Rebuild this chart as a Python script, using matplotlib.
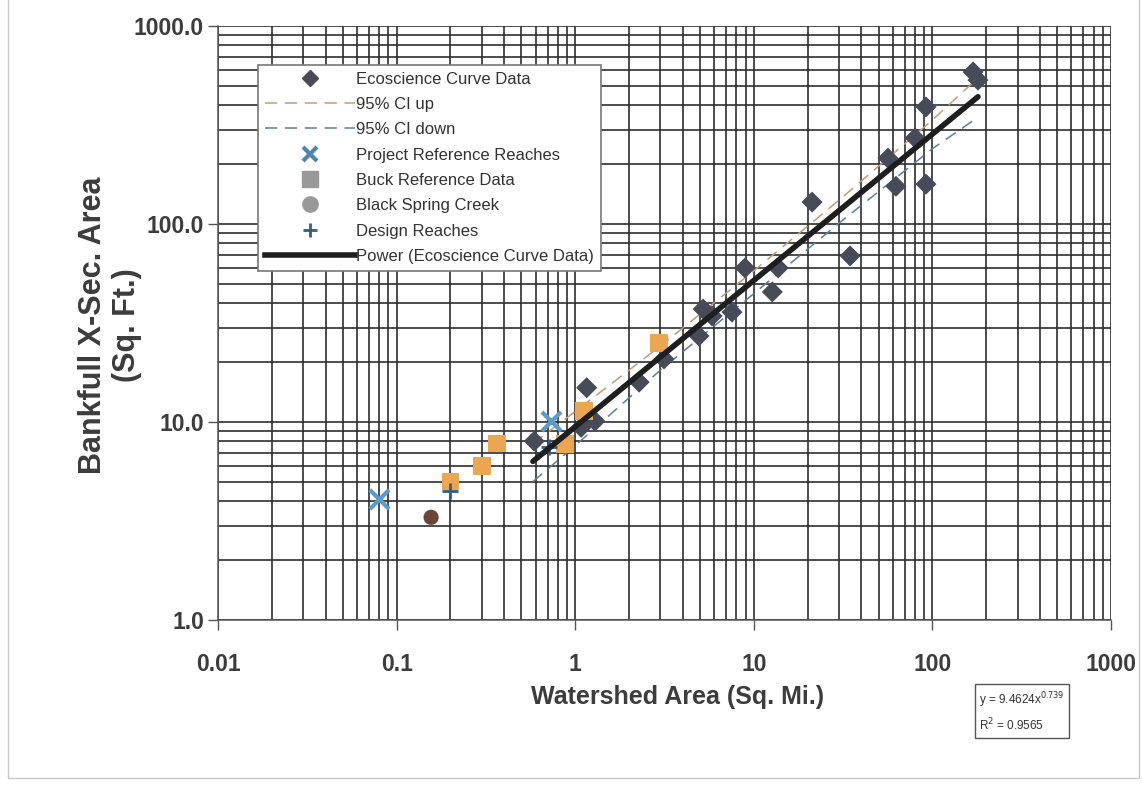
import matplotlib
matplotlib.use("Agg")
import matplotlib.pyplot as plt
from matplotlib.lines import Line2D
from matplotlib.patches import Rectangle
from matplotlib.ticker import LogLocator, FixedLocator, FixedFormatter, NullFormatter

plt.rcParams['font.family'] = ['Liberation Sans', 'DejaVu Sans']

# ---- data ----
eco_x = [0.59, 1.16, 1.08, 1.29, 2.28, 3.14, 4.93, 5.2, 5.84, 7.55, 8.93, 12.7, 13.7,
         21.2, 34.6, 56.4, 62.5, 80, 92, 92, 169, 180]
eco_y = [8.0, 14.9, 9.4, 10.1, 15.9, 20.8, 27.2, 37.2, 34.3, 35.9, 60, 45.4, 60,
         129, 69, 215, 155, 272, 390, 159, 586, 533]

buck_x = [0.2, 0.3, 0.365, 0.877, 1.12, 2.94]
buck_y = [5.0, 6.0, 7.8, 7.75, 11.4, 25.0]

proj_x = [0.08, 0.733]
proj_y = [4.1, 10.1]

bsc_x = [0.156]
bsc_y = [3.3]

design_x = [0.2, 0.71]
design_y = [4.5, 7.5]

ci_x = [0.58, 1, 3, 10, 30, 100, 175]
ci_up = [7.8, 11.3, 24.2, 58, 132, 335, 535]
ci_down = [5.0, 7.6, 18.3, 44.5, 101, 240, 340]

fit_a = 9.4624
fit_b = 0.739
fit_r2 = 0.9565
fit_xrange = [0.58, 180]

x_ticks = [0.01, 0.1, 1, 10, 100, 1000]
x_ticklabels = ['0.01', '0.1', '1', '10', '100', '1000']
y_ticks = [1, 10, 100, 1000]
y_ticklabels = ['1.0', '10.0', '100.0', '1000.0']

# ---- figure ----
fig = plt.figure(figsize=(11.42, 7.86), dpi=100)
ax = fig.add_axes([218/1142, 1-620/786, (1111-218)/1142, (620-26)/786])
ax.set_xscale('log')
ax.set_yscale('log')
ax.set_xlim(0.01, 1000)
ax.set_ylim(1, 1000)

gridc = '#2e2e2e'
ax.xaxis.set_major_locator(FixedLocator(x_ticks))
ax.xaxis.set_major_formatter(FixedFormatter(x_ticklabels))
ax.xaxis.set_minor_locator(LogLocator(base=10, subs=range(2, 10), numticks=20))
ax.xaxis.set_minor_formatter(NullFormatter())
ax.yaxis.set_major_locator(FixedLocator(y_ticks))
ax.yaxis.set_major_formatter(FixedFormatter(y_ticklabels))
ax.yaxis.set_minor_locator(LogLocator(base=10, subs=range(2, 10), numticks=20))
ax.yaxis.set_minor_formatter(NullFormatter())
ax.grid(True, which='both', color=gridc, linewidth=1.2)
ax.set_axisbelow(True)
ax.tick_params(which='major', length=7, color='#555555', labelsize=16.5,
               labelcolor='#3c3c3c', width=1)
ax.tick_params(which='minor', length=0)
ax.tick_params(axis='x', pad=17)
ax.tick_params(axis='y', pad=3)
for lbl in ax.get_xticklabels() + ax.get_yticklabels():
    lbl.set_fontweight('bold')
for s in ['top', 'right']:
    ax.spines[s].set_visible(False)
for s in ['left', 'bottom']:
    ax.spines[s].set_color('#555555')
    ax.spines[s].set_linewidth(1.1)

# CI lines
ax.plot(ci_x, ci_up, linestyle=(0, (8, 5)), color='#c89a72', linewidth=1.1, zorder=3)
ax.plot(ci_x, ci_down, linestyle=(0, (8, 5)), color='#5f7f98', linewidth=1.1, zorder=3)

# points
ax.scatter(eco_x, eco_y, marker='D', s=115, color='#474b58', edgecolors='none', zorder=4)
ax.scatter(buck_x, buck_y, marker='s', s=160, color='#eba652', edgecolors='none', zorder=4)
ax.scatter(proj_x, proj_y, marker='x', s=190, color='#5b9bc8', linewidths=3, zorder=5)
ax.scatter(bsc_x, bsc_y, marker='o', s=120, color='#6b4636', edgecolors='none', zorder=5)
ax.scatter(design_x, design_y, marker='+', s=120, color='#2f5f86', linewidths=2, zorder=5)

# power fit line
fx = [fit_xrange[0] * (fit_xrange[1] / fit_xrange[0]) ** (i / 100) for i in range(101)]
fy = [fit_a * v ** fit_b for v in fx]
ax.plot(fx, fy, color='#1e1e1e', linewidth=4, solid_capstyle='round', zorder=6)

# labels
ax.set_xlabel('Watershed Area (Sq. Mi.)', fontsize=18, fontweight='bold', color='#3c3c3c')
ax.xaxis.set_label_coords((678-218)/893, (620-697)/594)
ax.xaxis.label.set_va('center')
ax.set_ylabel('Bankfull X-Sec. Area\n(Sq. Ft.)', fontsize=22, fontweight='bold',
              color='#3c3c3c', linespacing=1.15)
ax.yaxis.set_label_coords((110-218)/893, (620-325)/594)
ax.yaxis.label.set_va('center')

# legend
handles = [
    Line2D([], [], linestyle='none', marker='D', markersize=8, color='#474b58'),
    Line2D([], [], linestyle=(0, (8, 5)), color='#c89a72', linewidth=1.1),
    Line2D([], [], linestyle=(0, (8, 5)), color='#5f7f98', linewidth=1.1),
    Line2D([], [], linestyle='none', marker='x', markersize=10, markeredgewidth=3,
           color='#4f86b0'),
    Line2D([], [], linestyle='none', marker='s', markersize=11, color='#999999'),
    Line2D([], [], linestyle='none', marker='o', markersize=11, color='#999999'),
    Line2D([], [], linestyle='none', marker='+', markersize=10, markeredgewidth=2,
           color='#2f5f86'),
    Line2D([], [], color='#1e1e1e', linewidth=4),
]
labels = ['Ecoscience Curve Data', '95% CI up', '95% CI down', 'Project Reference Reaches',
          'Buck Reference Data', 'Black Spring Creek', 'Design Reaches',
          'Power (Ecoscience Curve Data)']
leg = ax.legend(handles, labels, loc='upper left',
                bbox_to_anchor=((258-218)/893, (620-65)/594),
                fontsize=12, frameon=True, fancybox=False, framealpha=1,
                edgecolor='#777777', handlelength=5.4, handletextpad=0.1,
                labelspacing=0.62, borderpad=0.4, borderaxespad=0)
leg.get_frame().set_linewidth(1.2)
for t in leg.get_texts():
    t.set_color('#333333')
leg.set_zorder(10)

# equation box
fig.text(979/1142, 1-712/786,
         'y = 9.4624x$^{0.739}$\nR$^2$ = 0.9565',
         fontsize=8.5, color='#333333', va='center', ha='left', linespacing=1.5,
         bbox=dict(boxstyle='square,pad=0.35', facecolor='white', edgecolor='#555555',
                   linewidth=1))

# outer frame
fig.patches.append(Rectangle((8/1142, 8/786), (1139-8)/1142, 1 - 8/786 + 0.01,
                             transform=fig.transFigure, fill=False,
                             edgecolor='#c8c8c8', linewidth=1))

fig.savefig('out.png', dpi=100)
